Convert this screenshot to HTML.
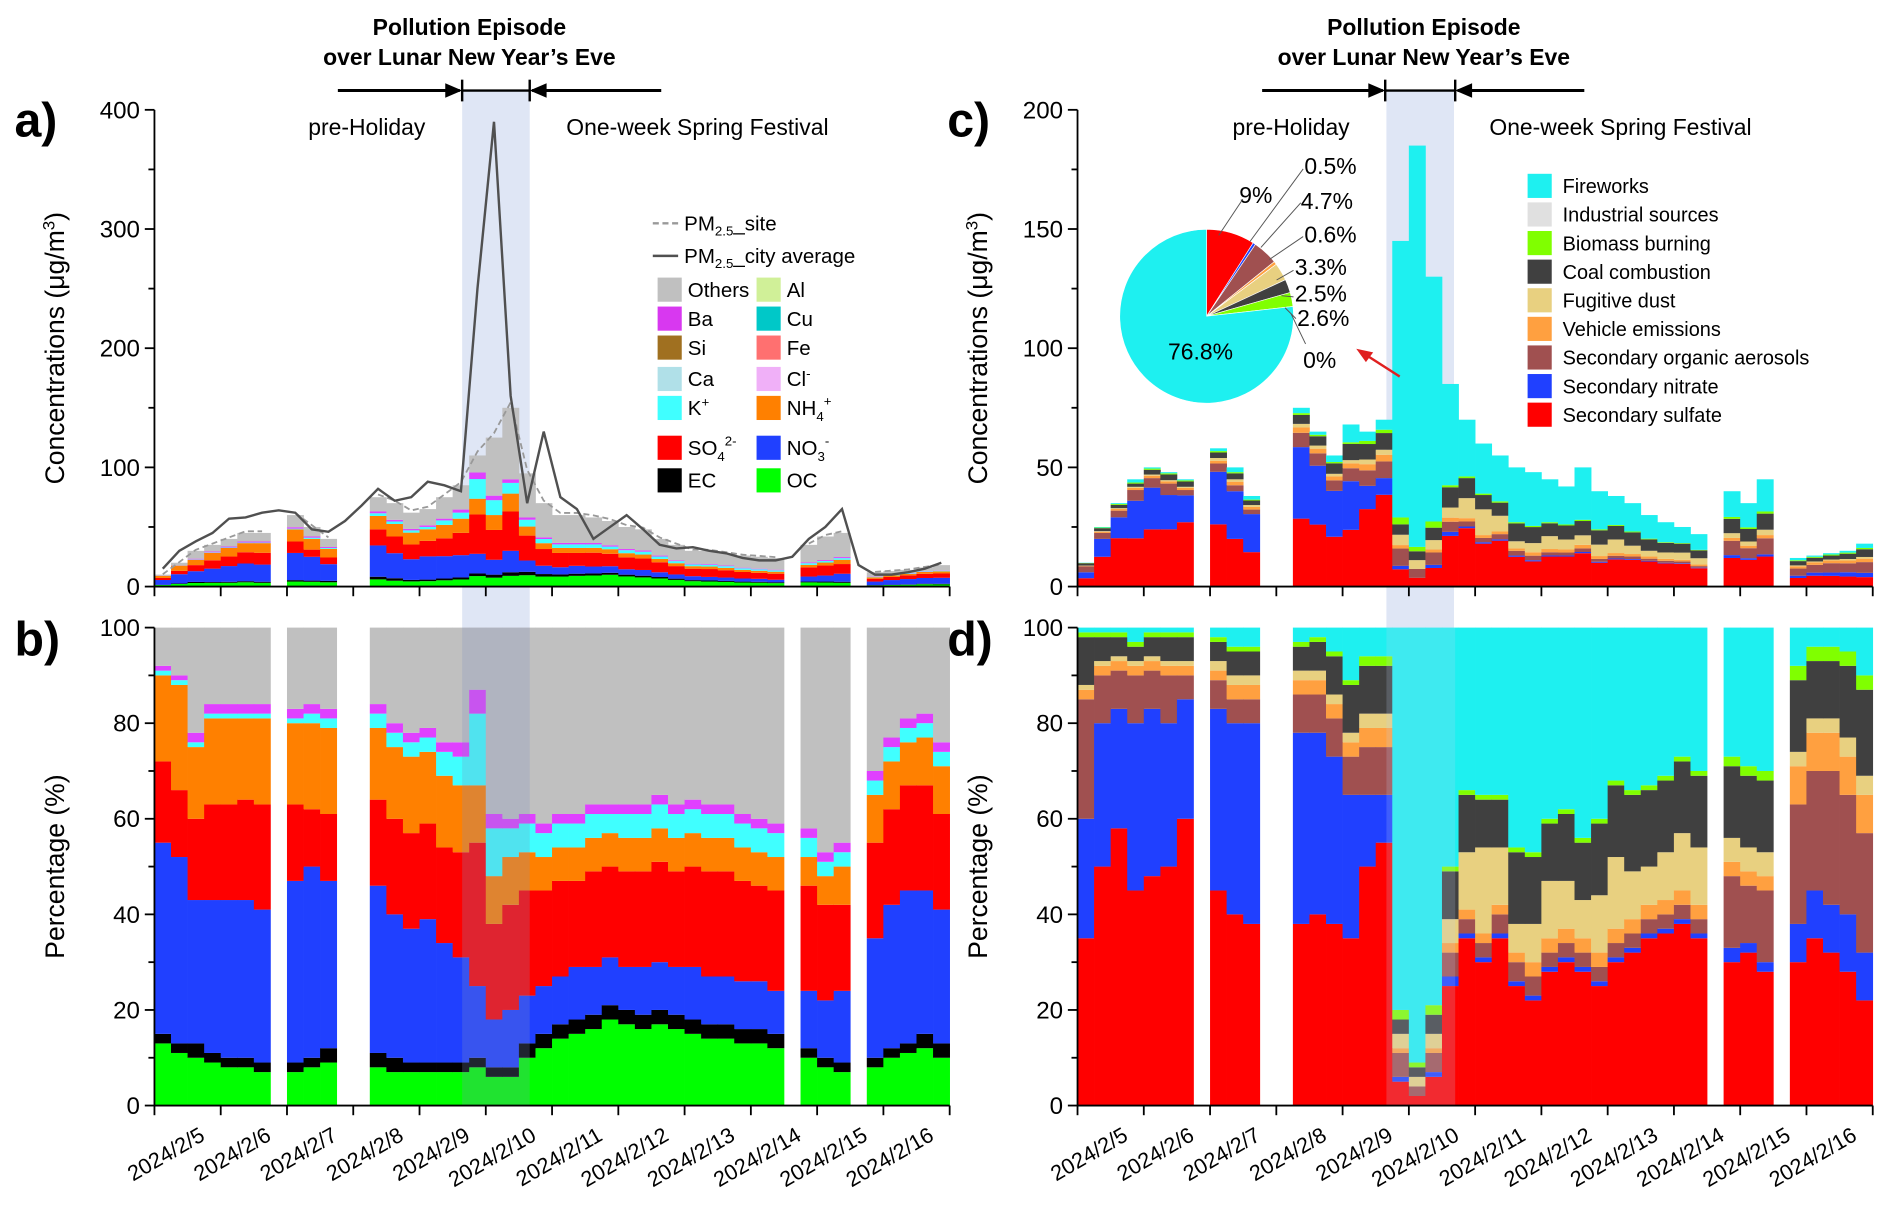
<!DOCTYPE html>
<html><head><meta charset="utf-8">
<style>
html,body{margin:0;padding:0;background:#fff;}
svg{display:block;font-family:"Liberation Sans",Arial,sans-serif;}
</style></head>
<body>
<svg id="fig" width="1892" height="1219" viewBox="0 0 1568 1010" preserveAspectRatio="none" xmlns="http://www.w3.org/2000/svg"></svg>
<script>
// ---------- DATA (6-hour bins, 4 per day, 48 bins from axis start) ----------
const dayLabels = ["2024/2/5","2024/2/6","2024/2/7","2024/2/8","2024/2/9","2024/2/10","2024/2/11","2024/2/12","2024/2/13","2024/2/14","2024/2/15","2024/2/16"];
const pmSite = [10,20,30,35,40,45,45,null,60,50,40,null,null,75,70,62,65,75,85,110,125,150,95,70,60,60,58,55,50,48,40,35,30,30,28,26,25,24,null,35,42,45,null,12,13,14,16,18];
const pmCity = [15,30,38,45,57,58,62,64,62,48,46,55,68,82,72,75,88,85,80,250,390,160,70,130,75,65,40,50,60,48,35,32,33,30,28,24,22,22,25,40,50,65,18,10,10,12,15,20];
const pctOC  = [13,11,10,9,8,8,7,0,7,8,9,0,0,8,7,7,7,7,7,8,6,6,10,12,14,15,16,18,17,16,17,16,15,14,14,13,13,12,0,10,8,7,0,8,10,11,12,10];
const pctEC  = [2,2,3,2,2,2,2,0,2,2,3,0,0,3,3,2,2,2,2,2,2,2,3,3,3,3,3,3,3,3,3,3,3,3,3,3,3,3,0,2,2,2,0,2,2,2,3,3];
const pctNO3 = [40,39,30,32,33,33,32,0,38,40,35,0,0,35,30,28,30,25,22,15,10,12,10,10,10,11,10,10,9,10,10,10,11,10,10,10,10,9,0,12,12,15,0,25,30,32,30,28];
const pctSO4 = [17,14,17,20,20,21,22,0,16,12,14,0,0,18,20,20,20,20,22,30,20,22,22,20,20,18,20,19,20,20,21,20,21,22,22,21,20,21,0,22,20,18,0,20,20,22,22,20];
const pctNH4 = [18,22,15,18,18,17,18,0,17,18,18,0,0,15,15,16,15,15,14,12,10,10,8,7,7,7,7,7,7,7,7,7,7,7,7,7,7,7,0,6,6,8,0,10,10,9,10,10];
const pctK   = [1,1,1,1,1,1,1,0,1,2,2,0,0,3,3,3,3,5,6,15,10,6,6,5,5,5,5,4,5,5,5,5,5,5,5,5,5,5,0,4,3,3,0,3,3,3,3,3];
const pctMinor = [1,1,2,2,2,2,2,0,2,2,2,0,0,2,2,2,2,2,3,5,3,2,2,2,2,2,2,2,2,2,2,2,2,2,2,2,2,2,0,2,2,2,0,2,2,2,2,2];

const totC = [10,25,35,45,50,48,45,null,58,50,38,null,null,75,65,55,68,65,70,145,185,130,85,70,60,55,50,48,45,42,50,40,38,35,30,27,25,22,null,40,35,45,null,12,13,14,15,18];
const cSulf  = [35,50,58,45,48,50,60,0,45,40,38,0,0,38,40,38,35,50,55,5,2,6,25,35,30,35,25,22,28,30,28,25,30,32,35,36,38,35,0,30,32,28,0,30,35,32,28,22];
const cNitr  = [25,30,25,35,35,30,25,0,38,40,42,0,0,40,38,35,30,15,10,1,0,1,2,1,1,1,1,1,1,1,1,1,1,1,1,1,1,1,0,3,2,2,0,8,10,10,12,10];
const cSOA   = [25,10,8,10,8,10,5,0,6,5,5,0,0,8,8,8,8,10,10,5,2,4,5,3,3,4,4,4,3,3,3,3,3,3,3,3,3,3,0,15,12,15,0,25,25,28,25,25];
const cVeh   = [2,2,2,2,2,2,2,0,2,3,3,0,0,3,3,3,3,4,4,1,0,1,2,2,2,2,2,3,3,3,3,3,3,3,3,3,3,3,0,3,3,3,0,8,8,8,8,8];
const cDust  = [1,1,1,1,1,1,1,0,2,2,2,0,0,2,2,2,2,3,3,3,2,3,5,12,18,12,6,8,12,10,8,12,15,10,8,10,12,12,0,5,5,5,0,3,3,3,4,4];
const cCoal  = [10,5,4,3,4,5,5,0,4,5,5,0,0,5,6,8,10,10,10,3,2,4,10,12,10,10,15,14,12,14,12,15,15,16,16,15,15,15,0,15,15,15,0,15,12,12,15,18];
const cBio   = [1,1,1,1,1,1,1,0,1,1,1,0,0,1,1,1,1,2,2,2,1,2,1,1,1,1,1,1,1,1,1,1,1,1,1,1,1,1,0,2,2,2,0,3,3,3,3,3];

const pieLabels = ["Secondary sulfate","Secondary nitrate","Secondary organic aerosols","Vehicle emissions","Fugitive dust","Coal combustion","Biomass burning","Fireworks"];
const pieValues = [9,0.5,4.7,0.6,3.3,2.5,2.6,76.8];

// ---------- RENDER ----------
const svg=document.getElementById('fig');
const NS='http://www.w3.org/2000/svg';
function el(tag,attrs,parent,text){const e=document.createElementNS(NS,tag);for(const k in attrs)e.setAttribute(k,attrs[k]);if(text!==undefined)e.textContent=text;(parent||svg).appendChild(e);return e;}
const NB=48, BW=659/48;

const colA={oc:'#00ff00',ec:'#000000',no3:'#2040ff',so4:'#ff0000',nh4:'#ff8000',k:'#40ffff',minor:'#e040ff',oth:'#c0c0c0'};
const colC={sulf:'#ff0000',nitr:'#2040ff',soa:'#a05050',veh:'#ffa040',dust:'#e8d080',coal:'#404040',bio:'#80ff00',fw:'#1ef0f0',ind:'#e0e0e0'};

function panel(x0,yTop,yBot,ymax,major,minorStep){
  const xs=i=>x0+i*BW;
  const ys=v=>yBot-(v/ymax)*(yBot-yTop);
  return {xs,ys,x0,yTop,yBot,ymax,major,minorStep};
}
const pA=panel(128,91,486,400,100,50), pB=panel(128,520,916,100,20,10);
const pC=panel(893,91,486,200,50,25), pD=panel(893,520,916,100,20,10);

function shade(x0,name){
  const r=el('rect',{x:x0,y:75,width:56,height:841,fill:'#dfe6f5'});
  
}
shade(383,'episode-shading-left');shade(1149,'episode-shading-right');

function stackBars(p,stacks,name){
  const g=el('g',{});
  
  for(let i=0;i<NB;i++){
    let base=0;
    for(const s of stacks){
      const v=s.vals[i]; if(v==null||v<=0) continue;
      const y1=p.ys(base), y2=p.ys(base+v);
      const r=el('rect',{x:p.xs(i).toFixed(2),y:y2.toFixed(2),width:(BW+0.3).toFixed(2),height:Math.max(0,y1-y2).toFixed(2),fill:s.c},g);
      
      
      base+=v;
    }
  }
}
const keysA=[['oc',pctOC],['ec',pctEC],['no3',pctNO3],['so4',pctSO4],['nh4',pctNH4],['k',pctK],['minor',pctMinor]];
function compA(scaleToPM){
  const st=keysA.map(([n,arr])=>({n,c:colA[n],vals:arr.map((v,i)=>pmSite[i]==null?null:(scaleToPM?v/100*pmSite[i]:v))}));
  const oth=pmSite.map((pm,i)=>{if(pm==null)return null;const s=keysA.reduce((a,[n,arr])=>a+arr[i],0);return scaleToPM?(100-s)/100*pm:100-s;});
  st.push({n:'others',c:colA.oth,vals:oth});return st;
}
stackBars(pA,compA(true),'panel-a-bars');
stackBars(pB,compA(false),'panel-b-bars');
const keysC=[['sulf',cSulf],['nitr',cNitr],['soa',cSOA],['veh',cVeh],['dust',cDust],['coal',cCoal],['bio',cBio]];
function compC(scale){
  const st=keysC.map(([n,arr])=>({n,c:colC[n],vals:arr.map((v,i)=>totC[i]==null?null:(scale?v/100*totC[i]:v))}));
  const fw=totC.map((t,i)=>{if(t==null)return null;const s=keysC.reduce((a,[n,arr])=>a+arr[i],0);return scale?(100-s)/100*t:100-s;});
  st.push({n:'fireworks',c:colC.fw,vals:fw});return st;
}
stackBars(pC,compC(true),'panel-c-bars');
stackBars(pD,compC(false),'panel-d-bars');

el('rect',{x:383,y:520,width:56,height:396,fill:'#8090c0',opacity:0.25,});
el('rect',{x:1149,y:520,width:57,height:396,fill:'#c0d0f0',opacity:0.2,});

function linePath(p,arr){let d='',pen=false;arr.forEach((v,i)=>{if(v==null){pen=false;return;}const x=p.xs(i)+BW/2,y=p.ys(v);d+=(pen?'L':'M')+x.toFixed(1)+' '+y.toFixed(1);pen=true;});return d;}
el('path',{d:linePath(pA,pmSite.map(v=>v==null?null:v*1.03)),fill:'none',stroke:'#999','stroke-width':1.5,'stroke-dasharray':'5 3',});
el('path',{d:linePath(pA,pmCity),fill:'none',stroke:'#505050','stroke-width':2,});

function axes(p,tag,title,showDates){
  const g=el('g',{});
  el('line',{x1:p.x0,y1:p.yTop,x2:p.x0,y2:p.yBot,stroke:'#000','stroke-width':1.5},g);
  el('line',{x1:p.x0,y1:p.yBot,x2:p.x0+659,y2:p.yBot,stroke:'#000','stroke-width':1.5},g);
  for(let v=0;v<=p.ymax;v+=p.minorStep){
    const y=p.ys(v),maj=v%p.major===0;
    el('line',{x1:p.x0-(maj?8:5),y1:y,x2:p.x0,y2:y,stroke:'#000','stroke-width':1.5},g);
    if(maj){const t=el('text',{x:p.x0-12,y:y+7,'text-anchor':'end','font-size':20},g,String(v));}
  }
  for(let d=0;d<=12;d++){const x=p.x0+d*54.92;el('line',{x1:x,y1:p.yBot,x2:x,y2:p.yBot+8,stroke:'#000','stroke-width':1.5},g);}
  if(showDates){
    dayLabels.forEach((lab,d)=>{const x=p.x0+(d+1)*54.92-12,y=p.yBot+28;
      const t=el('text',{x:x,y:y,'text-anchor':'end','font-size':18,transform:`rotate(-30 ${x} ${y})`},g,lab);
      });
  }
  const cx=p.x0-75,cy=(p.yTop+p.yBot)/2;
  const tt=el('text',{x:cx,y:cy,'text-anchor':'middle','font-size':22,transform:`rotate(-90 ${cx} ${cy})`},g);
  
  tt.innerHTML=title;
}
axes(pA,'panel-a','Concentrations (μg/m<tspan font-size="14" dy="-8">3</tspan><tspan dy="8">)</tspan>',false);
axes(pB,'panel-b','Percentage (%)',true);
axes(pC,'panel-c','Concentrations (μg/m<tspan font-size="14" dy="-8">3</tspan><tspan dy="8">)</tspan>',false);
axes(pD,'panel-d','Percentage (%)',true);

[['a)',12,113],['b)',12,543],['c)',785,113],['d)',785,543]].forEach(([s,x,y])=>{const t=el('text',{x,y,'font-size':40,'font-weight':'bold'},svg,s);});

function annot(cx,xa,xb,xl,xr,tPre,tOne,side){
  const g=el('g',{});
  el('text',{x:cx,y:29,'text-anchor':'middle','font-size':19,'font-weight':'bold'},g,'Pollution Episode');
  el('text',{x:cx,y:54,'text-anchor':'middle','font-size':19,'font-weight':'bold'},g,'over Lunar New Year’s Eve');
  el('line',{x1:xl,y1:75,x2:xa-2,y2:75,stroke:'#000','stroke-width':2.5},g);
  el('polygon',{points:`${xa},75 ${xa-14},69 ${xa-14},81`,fill:'#000'},g);
  el('line',{x1:xb+2,y1:75,x2:xr,y2:75,stroke:'#000','stroke-width':2.5},g);
  el('polygon',{points:`${xb},75 ${xb+14},69 ${xb+14},81`,fill:'#000'},g);
  el('line',{x1:xa,y1:66,x2:xa,y2:84,stroke:'#000','stroke-width':2},g);
  el('line',{x1:xb,y1:66,x2:xb,y2:84,stroke:'#000','stroke-width':2},g);
  el('line',{x1:xa,y1:75,x2:xb,y2:75,stroke:'#000','stroke-width':2},g);
  el('text',{x:tPre,y:112,'text-anchor':'middle','font-size':19},g,'pre-Holiday');
  el('text',{x:tOne,y:112,'text-anchor':'middle','font-size':19},g,'One-week Spring Festival');
}
annot(389,383,439,280,548,304,578,'left');
annot(1180,1148,1206,1046,1313,1070,1343,'right');

const lg=el('g',{});
el('line',{x1:541,y1:185,x2:562,y2:185,stroke:'#999','stroke-width':2,'stroke-dasharray':'5 3'},lg);
el('text',{x:567,y:191,'font-size':17},lg).innerHTML='PM<tspan font-size="11" dy="4">2.5</tspan><tspan dy="-4">_site</tspan>';
el('line',{x1:541,y1:212,x2:562,y2:212,stroke:'#505050','stroke-width':2},lg);
el('text',{x:567,y:218,'font-size':17},lg).innerHTML='PM<tspan font-size="11" dy="4">2.5</tspan><tspan dy="-4">_city average</tspan>';
const legA=[['Others','#c0c0c0',545,239],['Al','#d0f098',627,239],['Ba','#d838f0',545,263],['Cu','#00c8c8',627,263],['Si','#a07020',545,287],['Fe','#ff7070',627,287],['Ca','#b0e0e8',545,313],['Cl<tspan font-size="11" dy="-7">-</tspan>','#f0b0f8',627,313],['K<tspan font-size="11" dy="-7">+</tspan>','#40ffff',545,337],['NH<tspan font-size="11" dy="5">4</tspan><tspan font-size="11" dy="-13">+</tspan>','#ff8000',627,337],['SO<tspan font-size="11" dy="5">4</tspan><tspan font-size="11" dy="-13">2-</tspan>','#ff0000',545,370],['NO<tspan font-size="11" dy="5">3</tspan><tspan font-size="11" dy="-13">-</tspan>','#2040ff',627,370],['EC','#000',545,397],['OC','#00ff00',627,397]];
legA.forEach(([t,c,x,y])=>{const r=el('rect',{x:x,y:y-9,width:20,height:20,fill:c},lg);el('text',{x:x+25,y:y+7,'font-size':17},lg).innerHTML=t;});

const lc=el('g',{});
const legC=[['Fireworks',colC.fw],['Industrial sources',colC.ind],['Biomass burning',colC.bio],['Coal combustion',colC.coal],['Fugitive dust',colC.dust],['Vehicle emissions',colC.veh],['Secondary organic aerosols',colC.soa],['Secondary nitrate',colC.nitr],['Secondary sulfate',colC.sulf]];
legC.forEach(([t,c],k)=>{const y=154+k*23.7;const r=el('rect',{x:1266,y:y-10,width:20,height:20,fill:c},lc);el('text',{x:1295,y:y+6,'font-size':16.5},lc,t);});

const pg=el('g',{});
const pcx=1000,pcy=262,pr=72;const pieCols=[colC.sulf,colC.nitr,colC.soa,colC.veh,colC.dust,colC.coal,colC.bio,colC.fw];
const tot=pieValues.reduce((a,b)=>a+b,0);let ang=0;
pieValues.forEach((v,k)=>{const a0=ang,a1=ang+v/tot*2*Math.PI;ang=a1;
  const p0=[pcx+pr*Math.sin(a0),pcy-pr*Math.cos(a0)],p1=[pcx+pr*Math.sin(a1),pcy-pr*Math.cos(a1)];
  const s=el('path',{d:`M${pcx} ${pcy}L${p0[0].toFixed(2)} ${p0[1].toFixed(2)}A${pr} ${pr} 0 ${a1-a0>Math.PI?1:0} 1 ${p1[0].toFixed(2)} ${p1[1].toFixed(2)}Z`,fill:pieCols[k],stroke:'#fff','stroke-width':0.5},pg);
  });
const pieTxt=[['9%',1027,168],['0.5%',1081,144],['4.7%',1078,173],['0.6%',1081,201],['3.3%',1073,228],['2.5%',1073,250],['2.6%',1075,270],['0%',1080,305],['76.8%',968,298]];
pieTxt.forEach(([t,x,y])=>el('text',{x,y,'font-size':19},pg,t));
[[1030,165,1010,195],[1080,140,1036,200],[1078,168,1045,205],[1080,196,1052,215],[1072,224,1058,232],[1072,246,1062,245],[1074,264,1065,255],[1082,285,1070,260]].forEach(([x1,y1,x2,y2])=>el('line',{x1,y1,x2,y2,stroke:'#555','stroke-width':0.8},pg));
el('line',{x1:1160,y1:312,x2:1132,y2:294,stroke:'#e02020','stroke-width':2,});
el('polygon',{points:'1124,289 1138,292 1132,300',fill:'#e02020'},pg);
</script>
</body></html>
